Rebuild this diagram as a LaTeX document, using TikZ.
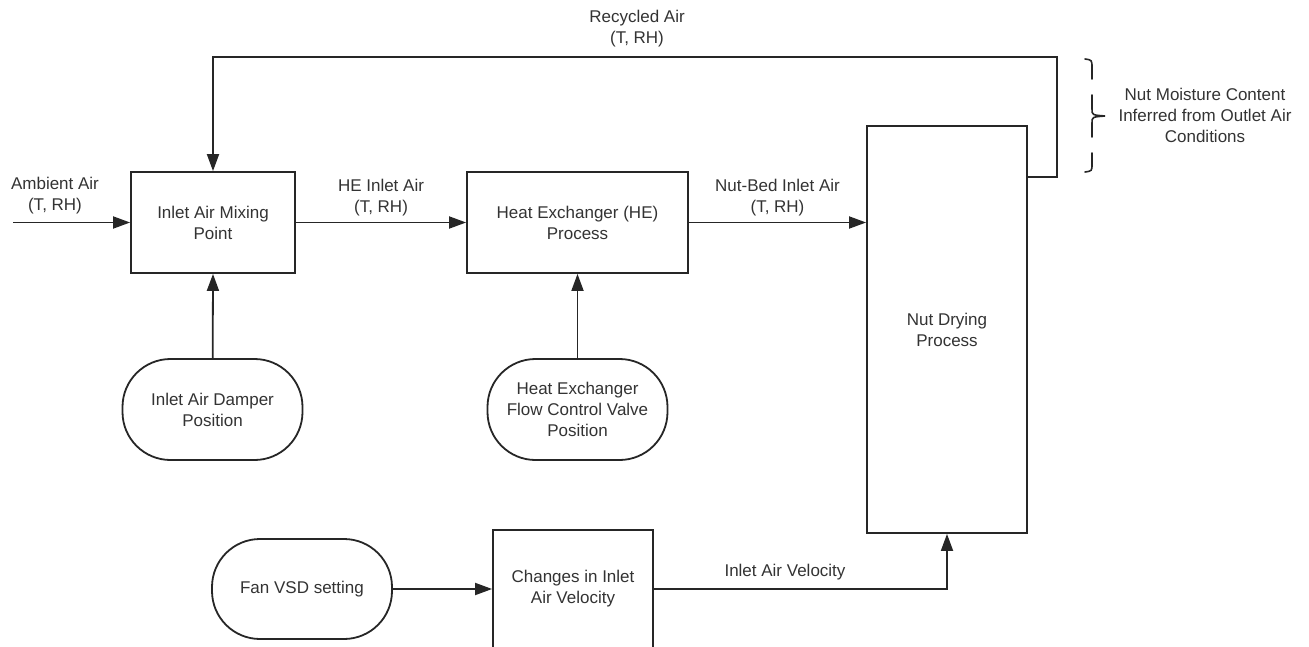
\documentclass[tikz,border=0pt]{standalone}
\usepackage{fontspec}
\setmainfont{Liberation Sans}
\usetikzlibrary{arrows.meta,positioning}

\begin{document}
\begin{tikzpicture}[x=1pt, y=-1pt,
  proc/.style={draw=black!85, line width=1.8pt, fill=white, align=center, font=\fontsize{17}{21}\selectfont, text=black!80},
  ctrl/.style={proc, rounded corners=48pt, minimum width=180pt, minimum height=101pt},
  arr/.style={-{Triangle[length=17pt, width=12pt]}, draw=black!85, line width=1.8pt},
  lbl/.style={font=\fontsize{17}{21}\selectfont, text=black!80, align=center},
  brc/.style={draw=black!85, line width=1.6pt, line cap=round}
]
\useasboundingbox (0,0) rectangle (1309,647);
% ---- process boxes
\node[proc, minimum width=164pt, minimum height=101pt] (mix) at (213,222.5) {Inlet Air Mixing\\Point};
\node[proc, minimum width=221pt, minimum height=101pt] (hex) at (577.5,222.5) {Heat Exchanger (HE)\\Process};
\node[proc, minimum width=160pt, minimum height=407pt] (dry) at (947,329.5) {Nut Drying\\Process};
\node[proc, minimum width=160pt, minimum height=118pt] (chg) at (573,589) {Changes in Inlet\\Air Velocity};
% ---- control inputs
\node[ctrl] (damp) at (212.5,409.5) {Inlet Air Damper\\Position};
\node[ctrl] (valve) at (577.5,409.5) {Heat Exchanger\\Flow Control Valve\\Position};
\node[ctrl, minimum height=100pt] (fan) at (302,589) {Fan VSD setting};
% ---- air flow
\coordinate (amb) at (13,222.5);
\node[lbl] (amblbl) at (55,196) {Ambient Air\\(T, RH)};
\draw[arr] (amb) -- (mix.west);
\draw[arr] (mix.east) -- node[lbl, above=2pt] {HE Inlet Air\\(T, RH)} (hex.west);
\draw[arr] (hex.east) -- node[lbl, above=2pt] {Nut-Bed Inlet Air\\(T, RH)} (hex.east -| dry.west);
\draw[arr] (damp) -- (mix.south);
\draw[arr] (valve) -- (hex.south);
\draw[arr] (fan.east) -- (chg.west);
\draw[arr] (chg.east) -| (dry.south);
\node[lbl] (vellbl) at (785,572) {Inlet Air Velocity};
% ---- recycled air loop
\coordinate (rc) at (1057,57);
\draw[arr] ([yshift=-52pt]dry.north east) -| (rc) -| (mix.north);
\node[lbl] (reclbl) at (637,29) {Recycled Air\\(T, RH)};
% ---- brace with gaps
\draw[brc] (1085,59) .. controls (1092,60) .. (1092,68) -- (1092,79);
\draw[brc] (1092,95) -- (1092,109) .. controls (1092,115) .. (1105,116)
           .. controls (1092,117) .. (1092,123) -- (1092,137);
\draw[brc] (1092,153) -- (1092,164) .. controls (1092,171) .. (1085,172);
\node[lbl] (moist) at (1205,115) {Nut Moisture Content\\Inferred from Outlet Air\\Conditions};
\end{tikzpicture}
\end{document}
